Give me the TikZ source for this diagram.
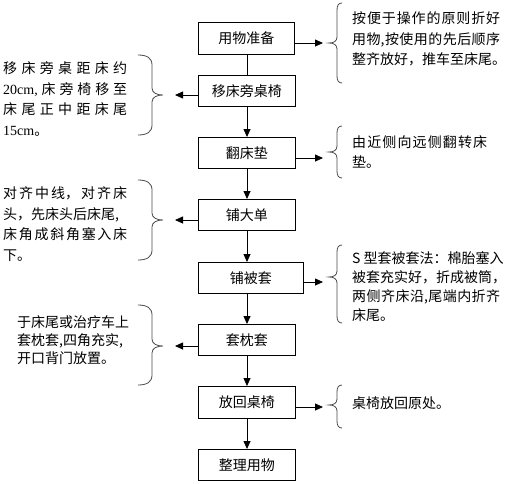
\documentclass[tikz,border=0pt]{standalone}
\usepackage{fontspec}
\setmainfont{Noto Sans CJK SC}
\newfontfamily\lserif{Liberation Serif}
\usetikzlibrary{arrows.meta}
\newcommand\rbr[3]{% top, bottom, tip
  \draw[bracestyle] (342,#1) .. controls (338.5,#1) and (337,#1+2.5) .. (337,#1+7)
    -- (337,#3-6) .. controls (337,#3-2) and (334,#3) .. (329,#3)
    .. controls (334,#3) and (337,#3+2) .. (337,#3+6)
    -- (337,#2-7) .. controls (337,#2-2.5) and (338.5,#2) .. (342,#2);}
\newcommand\lbr[3]{% top, bottom, tip
  \draw[bracestyle] (138,#1) .. controls (147,#1) and (152,#1+3) .. (152,#1+10)
    -- (152,#3-7) .. controls (152,#3-2) and (157,#3) .. (163,#3)
    .. controls (157,#3) and (152,#3+2) .. (152,#3+7)
    -- (152,#2-10) .. controls (152,#2-3) and (147,#2) .. (138,#2);}
\begin{document}
\begin{tikzpicture}[x=1pt,y=-1pt,
  stepbox/.style={draw, line width=0.8pt, minimum height=31pt, minimum width=97pt,
    inner sep=0pt, font=\fontsize{14}{16}\selectfont, anchor=north west},
  note/.style={inner sep=0pt, align=left, anchor=west, font=\fontsize{14}{20.5}\selectfont},
  conn/.style={line width=0.8pt},
  arr/.style={conn, -{Triangle[length=8pt,width=7pt]}},
  bracestyle/.style={line width=0.8pt, draw=black!70}
]
\fill[white] (0,0) rectangle (508,483);
\useasboundingbox (0,0) rectangle (508,483);

% boxes
\node[stepbox, minimum width=96pt, minimum height=32pt] (n1) at (198,22) {用物准备};
\node[stepbox] (n2) at (198,75) {移床旁桌椅};
\node[stepbox] (n3) at (198,137) {翻床垫};
\node[stepbox] (n4) at (198,199) {铺大单};
\node[stepbox, minimum width=105pt] (n5) at (198,262) {铺被套};
\node[stepbox] (n6) at (198,324) {套枕套};
\node[stepbox, minimum height=32pt] (n7) at (198,386) {放回桌椅};
\node[stepbox] (n8) at (198,449) {整理用物};

% spine
\coordinate (sp) at (247,0);
\draw[conn] (n1.south -| sp) -- (n2.north -| sp);
\draw[arr] (n2.south -| sp) -- (n3.north -| sp);
\draw[arr] (n3.south -| sp) -- (n4.north -| sp);
\draw[arr] (n4.south -| sp) -- (n5.north -| sp);
\draw[arr] (n5.south -| sp) -- (n6.north -| sp);
\draw[arr] (n6.south -| sp) -- (n7.north -| sp);
\draw[arr] (n7.south -| sp) -- (n8.north -| sp);

% side arrows
\coordinate (r1) at (323,43);
\coordinate (r3) at (323,158);
\coordinate (r5) at (323,282);
\coordinate (r7) at (323,407);
\coordinate (l2) at (175,95);
\coordinate (l4) at (175,220);
\coordinate (l6) at (175,346);
\draw[arr] (n1.east |- r1) -- (r1);
\draw[arr] (n3.east |- r3) -- (r3);
\draw[arr] (n5.east |- r5) -- (r5);
\draw[arr] (n7.east |- r7) -- (r7);
\draw[arr] (n2.west |- l2) -- (l2);
\draw[arr] (n4.west |- l4) -- (l4);
\draw[arr] (n6.west |- l6) -- (l6);

% braces
\rbr{3}{83}{43}
\rbr{126}{178}{152}
\rbr{245}{323}{277}
\rbr{385}{428}{405}
\lbr{55}{135}{95}
\lbr{180}{260}{220}
\lbr{305}{385}{346}

% notes
\node[note] (t1) at (352,39) {%
  \makebox[148pt][s]{按\hfil 便\hfil 于\hfil 操\hfil 作\hfil 的\hfil 原\hfil 则\hfil 折\hfil 好}\\
  \makebox[148pt][s]{用\hfil 物,\hfil 按\hfil 使\hfil 用\hfil 的\hfil 先\hfil 后\hfil 顺\hfil 序}\\
  整齐放好，推车至床尾。};
\node[note] (t2) at (3,99) {%
  \makebox[124pt][s]{移\hfil 床\hfil 旁\hfil 桌\hfil 距\hfil 床\hfil 约}\\
  \makebox[124pt][s]{{\lserif 20cm,}\hfil 床\hfil 旁\hfil 椅\hfil 移\hfil 至}\\
  \makebox[124pt][s]{床\hfil 尾\hfil 正\hfil 中\hfil 距\hfil 床\hfil 尾}\\
  {\lserif 15cm}。};
\node[note, font=\fontsize{14}{20}\selectfont] (t3) at (352,152) {%
  \makebox[135pt][s]{由\hfil 近\hfil 侧\hfil 向\hfil 远\hfil 侧\hfil 翻\hfil 转\hfil 床}\\
  垫。};
\node[note] (t4) at (3,224) {%
  \makebox[124pt][s]{对\hfil 齐\hfil 中\hfil 线，\hfil 对\hfil 齐\hfil 床}\\
  头，先床头后床尾,\\
  \makebox[124pt][s]{床\hfil 角\hfil 成\hfil 斜\hfil 角\hfil 塞\hfil 入\hfil 床}\\
  下。};
\node[note, font=\fontsize{14}{19}\selectfont] (t5) at (352,286.5) {%
  S 型套被套法：棉胎塞入\\
  被套充实好，折成被筒，\\
  \makebox[148pt][s]{两\hfil 侧\hfil 齐\hfil 床\hfil 沿,\hfil 尾\hfil 端\hfil 内\hfil 折\hfil 齐}\\
  床尾。};
\node[note, font=\fontsize{14}{18}\selectfont] (t6) at (17,340) {%
  于床尾或治疗车上\\
  套枕套,四角充实,\\
  开口背门放置。};
\node[note] (t7) at (352,403) {桌椅放回原处。};
\end{tikzpicture}
\end{document}
